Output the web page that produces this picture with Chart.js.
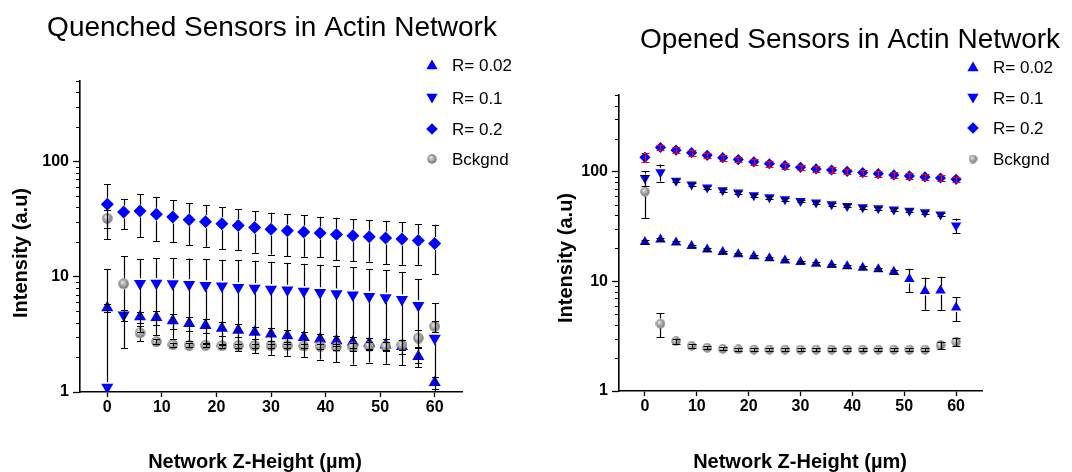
<!DOCTYPE html>
<html><head><meta charset="utf-8">
<script src="https://cdn.jsdelivr.net/npm/chart.js@4/dist/chart.umd.min.js"></script>
<style>
html,body{margin:0;padding:0;background:#fff;}
#wrap{position:relative;width:1072px;height:472px;overflow:hidden;background:#fff;}
#c1{position:absolute;left:0;top:0;width:536px;height:472px;}
#c2{position:absolute;left:536px;top:0;width:536px;height:472px;}
</style></head><body>
<div id="wrap"><canvas id="c1" width="536" height="472"></canvas><canvas id="c2" width="536" height="472"></canvas></div>
<script>
// ---------- data ----------
const zHeight = [0,3,6,9,12,15,18,21,24,27,30,33,36,39,42,45,48,51,54,57,60];
const xTickValues = [0,10,20,30,40,50,60];
const yTickValues = [1,10,100];
const yMinorTicks = [2,3,4,5,6,7,8,9,20,30,40,50,60,70,80,90,200,300,400,500];
const seriesNames = ['R= 0.02','R= 0.1','R= 0.2','Bckgnd'];

// Quenched sensors
const qR002    = [5.38,null,4.49,4.43,4.15,3.93,3.77,3.58,3.44,3.30,3.19,3.07,2.97,2.89,2.79,2.72,2.65,2.56,2.48,2.03,1.21];
const qR002Err = [0.4,0,0.5,0.65,0.6,0.55,0.5,0.5,0.45,0.4,0.4,0.35,0.35,0.3,0.3,0.3,0.3,0.3,0.35,0.38,0.15];
const qR01     = [1.10,4.67,8.75,8.8,8.7,8.58,8.41,8.3,8.08,7.97,7.81,7.66,7.5,7.31,7.11,6.93,6.75,6.56,6.35,5.63,2.93];
const qR01Err  = [10.6,0.5,5.45,5.7,5.8,5.8,5.8,5.76,5.8,5.8,5.7,5.6,5.5,5.4,5.3,5.2,4.95,4.8,4.65,3.85,3.0];
const qR02     = [42.6,36.5,37.2,34.8,33.0,31.3,30.1,28.9,27.8,26.7,25.8,25.1,24.5,24.0,23.3,22.7,22.3,21.7,21.3,20.6,19.4];
const qR02Err  = [21.4,10.5,15.1,14.5,13.1,12.4,11.9,11.5,10.7,10.5,10.2,10.0,9.6,9.2,9.3,9.0,8.8,8.8,8.6,7.9,8.9];
const qBck     = [32.2,8.7,3.26,2.74,2.58,2.55,2.55,2.53,2.53,2.53,2.53,2.53,2.51,2.5,2.46,2.46,2.5,2.5,2.56,2.94,3.72];
const qBckErr  = [5.5,6.3,0.5,0.12,0.1,0.1,0.1,0.1,0.1,0.1,0.1,0.1,0.1,0.12,0.15,0.2,0.2,0.2,0.25,0.48,0.4];

// Opened sensors
const oR002    = [22.8,24.1,22.6,21.0,19.5,18.5,17.7,16.9,16.2,15.5,15.0,14.5,14.1,13.7,13.3,12.9,12.2,10.5,8.17,8.23,5.76];
const oR002Err = [0.8,0.7,0.6,0.6,0.55,0.5,0.5,0.5,0.45,0.45,0.45,0.4,0.4,0.4,0.4,0.45,0.6,2.5,2.65,2.8,1.45];
const oR01     = [87.6,98.6,82.8,76.2,71.6,67.7,64.4,60.9,58.4,56.0,54.1,52.2,50.5,48.7,47.4,46.4,45.1,43.9,42.7,40.6,32.3];
const oR01Err  = [13,17.4,2.5,2.3,2.2,2,2,1.8,1.8,1.7,1.6,1.6,1.5,1.5,1.4,1.4,1.4,1.3,1.3,1.3,5.0];
const oR02     = [135,166,157,149,141,134,129,123,118,113.5,109.5,106,103.5,100.7,98,95.9,93.3,91.4,89.5,87.5,85.2];
const oR02Err  = [13,10,9.4,9,8.5,8,7.7,7.4,7.1,6.8,6.6,6.4,6.2,6,5.9,5.8,5.6,5.5,5.4,5.2,5.1];
const oBck     = [65.8,4.12,2.85,2.58,2.48,2.43,2.4,2.39,2.39,2.39,2.39,2.39,2.39,2.39,2.39,2.39,2.39,2.39,2.39,2.62,2.81];
const oBckErr  = [28.2,1.03,0.15,0.1,0.08,0.08,0.08,0.08,0.08,0.08,0.08,0.08,0.08,0.08,0.08,0.08,0.08,0.08,0.08,0.2,0.25];

// ---------- helpers ----------
const SANS = "'Liberation Sans', Arial, Helvetica, sans-serif";
const BLUE = '#0000ff';

function sphere(d) {
  const c = document.createElement('canvas');
  c.width = d; c.height = d;
  const g = c.getContext('2d');
  const r = d / 2;
  const grad = g.createRadialGradient(r * 0.75, r * 0.7, r * 0.1, r, r, r);
  grad.addColorStop(0, '#e2e2e2');
  grad.addColorStop(0.55, '#a0a0a0');
  grad.addColorStop(1, '#6c6c6c');
  g.fillStyle = grad;
  g.beginPath(); g.arc(r, r, r - 0.3, 0, Math.PI * 2); g.fill();
  return c;
}

function pts(ys) { return zHeight.map((x, i) => ({x: x, y: ys[i]})); }

function ds(label, ys, errs, style, opts) {
  return Object.assign({
    label: label, data: pts(ys), errors: errs,
    showLine: false, borderWidth: 0,
    backgroundColor: BLUE, borderColor: BLUE,
    pointStyle: style, pointBorderWidth: 0
  }, opts);
}

const errorBarPlugin = {
  id: 'errbars',
  afterDatasetsDraw(chart) {
    const ctx = chart.ctx, ys = chart.scales.y, area = chart.chartArea;
    ctx.save();
    ctx.beginPath();
    ctx.rect(area.left, area.top - 3, area.right - area.left, area.bottom - area.top + 3);
    ctx.clip();
    chart.data.datasets.forEach((d, di) => {
      if (!d.errors) return;
      const meta = chart.getDatasetMeta(di);
      ctx.strokeStyle = d.errorColor || '#000';
      ctx.lineWidth = d.errorWidth || 1.2;
      const cap = d.capHalf || 3.5, h = d.markerHalf || 5;
      meta.data.forEach((pt, i) => {
        const v = d.data[i].y, e = d.errors[i];
        if (v == null || !e) return;
        const px = Math.round(pt.x) + 0.5, py = pt.y;
        const yTop = ys.getPixelForValue(v + e);
        const low = v - e;
        const hasLow = low > ys.min;
        const yBot = hasLow ? ys.getPixelForValue(low) : area.bottom + 2;
        ctx.beginPath();
        if (py - yTop > h) { ctx.moveTo(px, yTop); ctx.lineTo(px, py - h); }
        else { ctx.moveTo(px, py); ctx.lineTo(px, yTop); }
        if (yBot - py > h) { ctx.moveTo(px, py + h); ctx.lineTo(px, yBot); }
        else { ctx.moveTo(px, py); ctx.lineTo(px, yBot); }
        ctx.moveTo(px - cap, Math.round(yTop) + 0.5); ctx.lineTo(px + cap, Math.round(yTop) + 0.5);
        if (hasLow) { ctx.moveTo(px - cap, Math.round(yBot) + 0.5); ctx.lineTo(px + cap, Math.round(yBot) + 0.5); }
        ctx.stroke();
      });
    });
    ctx.restore();
  }
};

const minorTickPlugin = {
  id: 'minorticks',
  afterDraw(chart) {
    const ctx = chart.ctx, ys = chart.scales.y, area = chart.chartArea;
    ctx.save();
    ctx.strokeStyle = '#000'; ctx.lineWidth = 1.2;
    ctx.beginPath();
    yMinorTicks.forEach(v => {
      const y = Math.round(ys.getPixelForValue(v)) + 0.5;
      ctx.moveTo(area.left - 4, y); ctx.lineTo(area.left, y);
    });
    ctx.stroke();
    ctx.restore();
  }
};

function drawMarker(ctx, kind, x, y, r) {
  ctx.fillStyle = BLUE;
  ctx.beginPath();
  if (kind === 'up') {
    ctx.moveTo(x, y - r); ctx.lineTo(x + r * 0.866, y + r * 0.5); ctx.lineTo(x - r * 0.866, y + r * 0.5);
  } else if (kind === 'down') {
    ctx.moveTo(x, y + r); ctx.lineTo(x + r * 0.866, y - r * 0.5); ctx.lineTo(x - r * 0.866, y - r * 0.5);
  } else if (kind === 'diamond') {
    ctx.moveTo(x, y - r); ctx.lineTo(x + r, y); ctx.lineTo(x, y + r); ctx.lineTo(x - r, y);
  }
  ctx.closePath();
  ctx.fill();
}

const decoPlugin = {
  id: 'deco',
  afterDraw(chart, args, o) {
    const ctx = chart.ctx;
    ctx.save();
    ctx.fillStyle = '#000';
    ctx.textBaseline = 'middle';
    // title
    ctx.font = o.titleFont + ' ' + SANS;
    ctx.textAlign = 'center';
    ctx.fillText(o.title, o.titleX, o.titleY);
    // x title
    ctx.font = 'bold 20px ' + SANS;
    ctx.fillText(o.xTitle, o.xTitleX, o.xTitleY);
    // y title
    ctx.save();
    ctx.translate(o.yTitleX, o.yTitleY);
    ctx.rotate(-Math.PI / 2);
    ctx.fillText(o.yTitle, 0, 0);
    ctx.restore();
    // legend
    ctx.font = '17px ' + SANS;
    ctx.textAlign = 'left';
    const kinds = ['up', 'down', 'diamond', 'sphere'];
    seriesNames.forEach((name, i) => {
      const y = o.legendY[i];
      if (kinds[i] === 'sphere') {
        const s = o.legendSphere;
        ctx.drawImage(s, o.legendX - s.width / 2, y - s.height / 2);
      } else {
        drawMarker(ctx, kinds[i], o.legendX, kinds[i] === 'up' ? y + 1 : (kinds[i] === 'down' ? y - 1 : y), kinds[i] === 'diamond' ? 5.8 : 6.5);
      }
      ctx.fillStyle = '#000';
      ctx.fillText(name, o.legendTextX, y + 1);
    });
    ctx.restore();
  }
};

function scales(yWidth, xHeight) {
  const tickFont = {family: SANS, size: 16, weight: 'bold'};
  return {
    x: {
      type: 'linear', min: -5, max: 65,
      afterBuildTicks: s => { s.ticks = xTickValues.map(v => ({value: v})); },
      afterFit: s => { s.height = xHeight; },
      grid: {display: true, drawOnChartArea: false, drawTicks: true, tickLength: 5, tickWidth: 1.3, tickColor: '#000', color: '#000'},
      border: {display: true, color: '#000', width: 1.6},
      ticks: {color: '#000', font: tickFont, padding: 1, maxRotation: 0, autoSkip: false, callback: v => String(v)}
    },
    y: {
      type: 'logarithmic', min: 1, max: 500,
      afterBuildTicks: s => { s.ticks = yTickValues.map(v => ({value: v})); },
      afterFit: s => { s.width = yWidth; },
      grid: {display: true, drawOnChartArea: false, drawTicks: true, tickLength: 7, tickWidth: 1.3, tickColor: '#000', color: '#000'},
      border: {display: true, color: '#000', width: 1.6},
      ticks: {color: '#000', font: tickFont, padding: 4, autoSkip: false, callback: v => String(v)}
    }
  };
}

function makeChart(id, cfg) {
  const sph = sphere(cfg.sphereD);
  return new Chart(document.getElementById(id), {
    type: 'scatter',
    data: {
      datasets: [
        ds(seriesNames[0], cfg.r002, cfg.r002Err, 'triangle', {pointRadius: cfg.triR, pointHoverRadius: cfg.triR, order: 4, markerHalf: cfg.triR * 0.75, capHalf: cfg.cap}),
        ds(seriesNames[1], cfg.r01, cfg.r01Err, 'triangle', {pointRadius: cfg.triR, pointHoverRadius: cfg.triR, rotation: 180, order: 3, markerHalf: cfg.triR * 0.75, capHalf: cfg.cap}),
        ds(seriesNames[2], cfg.r02, cfg.r02Err, 'rectRot', {pointRadius: cfg.diaR, pointHoverRadius: cfg.diaR, order: 2, markerHalf: cfg.diaR, capHalf: cfg.cap, errorColor: cfg.r02ErrColor}),
        ds(seriesNames[3], cfg.bck, cfg.bckErr, sph, {pointRadius: cfg.sphereD / 2, order: 1, markerHalf: cfg.sphereD / 2, capHalf: cfg.cap})
      ]
    },
    options: {
      responsive: false, animation: false, devicePixelRatio: 1,
      layout: {padding: cfg.padding},
      scales: scales(cfg.yWidth, cfg.xHeight),
      plugins: {
        legend: {display: false}, tooltip: {enabled: false}, title: {display: false},
        deco: Object.assign({legendSphere: sphere(cfg.sphereD - 1)}, cfg.deco)
      },
      events: []
    },
    plugins: [errorBarPlugin, minorTickPlugin, decoPlugin]
  });
}

makeChart('c1', {
  r002: qR002, r002Err: qR002Err, r01: qR01, r01Err: qR01Err, r02: qR02, r02Err: qR02Err, bck: qBck, bckErr: qBckErr,
  triR: 7, diaR: 6.5, sphereD: 11, cap: 3.5, r02ErrColor: '#000',
  padding: {left: 8, top: 81, right: 74, bottom: 0}, yWidth: 72, xHeight: 80,
  deco: {
    title: 'Quenched Sensors in Actin Network', titleFont: '28px', titleX: 272, titleY: 28,
    xTitle: 'Network Z-Height (µm)', xTitleX: 255, xTitleY: 462,
    yTitle: 'Intensity (a.u)', yTitleX: 21, yTitleY: 253,
    legendX: 432, legendTextX: 452, legendY: [65, 98, 129, 159]
  }
});

makeChart('c2', {
  r002: oR002, r002Err: oR002Err, r01: oR01, r01Err: oR01Err, r02: oR02, r02Err: oR02Err, bck: oBck, bckErr: oBckErr,
  triR: 6, diaR: 5.6, sphereD: 10, cap: 4, r02ErrColor: '#ff0000',
  padding: {left: 8, top: 95, right: 90, bottom: 0}, yWidth: 75, xHeight: 81,
  deco: {
    title: 'Opened Sensors in Actin Network', titleFont: '28px', titleX: 314, titleY: 40,
    xTitle: 'Network Z-Height (µm)', xTitleX: 264, xTitleY: 462,
    yTitle: 'Intensity (a.u)', yTitleX: 30, yTitleY: 258,
    legendX: 437, legendTextX: 457, legendY: [67, 98, 128, 159]
  }
});
</script>
</body></html>
